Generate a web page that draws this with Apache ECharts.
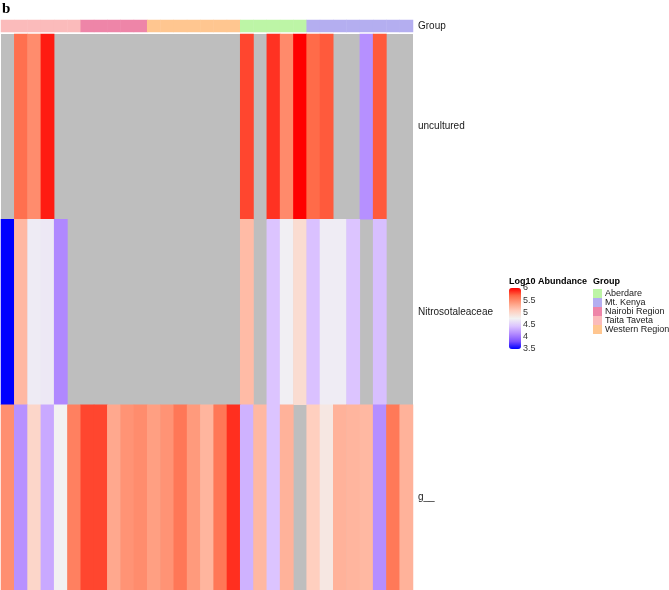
<!DOCTYPE html>
<html>
<head>
<meta charset="utf-8">
<script src="https://cdn.jsdelivr.net/npm/echarts@6/dist/echarts.min.js"></script>
<style>html,body{margin:0;padding:0;background:#fff}#c{width:669px;height:590px}</style>
</head>
<body>
<div id="c"></div>
<script>
// Samples (columns) and their group annotation
const samples = ['S1','S2','S3','S4','S5','S6','S7','S8','S9','S10','S11','S12','S13','S14','S15','S16',
  'S17','S18','S19','S20','S21','S22','S23','S24','S25','S26','S27','S28','S29','S30','S31'];
const sampleGroups = ['Taita Taveta','Taita Taveta','Taita Taveta','Taita Taveta','Taita Taveta','Taita Taveta',
  'Nairobi Region','Nairobi Region','Nairobi Region','Nairobi Region','Nairobi Region',
  'Western Region','Western Region','Western Region','Western Region','Western Region','Western Region','Western Region',
  'Aberdare','Aberdare','Aberdare','Aberdare','Aberdare',
  'Mt. Kenya','Mt. Kenya','Mt. Kenya','Mt. Kenya','Mt. Kenya','Mt. Kenya','Mt. Kenya','Mt. Kenya'];
const groupNames = ['Aberdare','Mt. Kenya','Nairobi Region','Taita Taveta','Western Region'];
const groupColors = ['#BDF5A6','#B4AEF0','#EE85A8','#FBBBBB','#FFC690'];

// Taxa (rows)
const taxa = ['uncultured','Nitrosotaleaceae','g__'];
// Log10 abundance per taxon (null = not detected)
const uncultured = [null,5.64,5.48,5.92,null,null,null,null,null,null,null,null,null,null,null,null,
  null,null,5.79,null,5.85,5.49,6.0,5.67,5.73,null,null,4.15,5.73,null,null];
const nitrosotaleaceae = [3.5,5.21,4.7,4.68,4.11,null,null,null,null,null,null,null,null,null,null,null,
  null,null,5.19,null,4.44,4.73,4.95,4.42,4.71,4.71,4.44,null,4.41,null,null];
const gUnderscore = [5.46,4.16,5.0,4.29,4.75,5.55,5.79,5.79,5.31,5.44,5.48,5.37,5.44,5.6,5.4,5.23,
  5.6,5.86,4.34,5.21,4.44,5.25,null,5.06,4.85,5.25,5.23,5.21,4.14,5.59,5.25];
const rows = [uncultured, nitrosotaleaceae, gUnderscore];

const colorTicks = [3.5, 4, 4.5, 5, 5.5, 6];

const heatData = [];
rows.forEach((r, ri) => r.forEach((v, ci) => { if (v !== null) heatData.push([ci, ri, v]); }));
const annData = sampleGroups.map((g, ci) => [ci, 0, groupNames.indexOf(g)]);

const FF = "'Liberation Sans', Arial, sans-serif";
const chart = echarts.init(document.getElementById('c'), null, { renderer: 'canvas' });
chart.setOption({
  animation: false,
  title: [
    { text: 'b', left: 2, top: 2, padding: 0, textStyle: { fontFamily: "'Liberation Serif', serif", fontWeight: 'bold', fontSize: 15, color: '#000' } },
    { text: 'Log10 Abundance', left: 509, top: 277, padding: 0, textStyle: { fontFamily: FF, fontWeight: 'bold', fontSize: 9, color: '#000' } },
    { text: 'Group', left: 593, top: 277, padding: 0, textStyle: { fontFamily: FF, fontWeight: 'bold', fontSize: 9, color: '#000' } }
  ],
  grid: [
    { left: 1, top: 34, width: 412, height: 556, show: true, backgroundColor: '#BEBEBE', borderWidth: 0 },
    { left: 1, top: 20, width: 412, height: 12, show: false },
    { left: 509, top: 288, width: 12, height: 61, show: false }
  ],
  xAxis: [
    { type: 'category', data: samples, gridIndex: 0, show: false },
    { type: 'category', data: samples, gridIndex: 1, show: false },
    { type: 'value', gridIndex: 2, show: false, min: 0, max: 1 }
  ],
  yAxis: [
    { type: 'category', data: taxa, gridIndex: 0, inverse: true, position: 'right',
      axisLine: { show: false }, axisTick: { show: false },
      axisLabel: { fontFamily: FF, fontSize: 10, color: '#1a1a1a', margin: 5 } },
    { type: 'category', data: ['Group'], gridIndex: 1, position: 'right',
      axisLine: { show: false }, axisTick: { show: false },
      axisLabel: { fontFamily: FF, fontSize: 10, color: '#1a1a1a', margin: 5 } },
    { type: 'value', gridIndex: 2, min: colorTicks[0], max: colorTicks[colorTicks.length - 1], interval: 0.5, position: 'right',
      axisLine: { show: false }, splitLine: { show: false },
      axisTick: { show: true, inside: true, length: 3, lineStyle: { color: '#fff', width: 1 } },
      axisLabel: { fontFamily: FF, fontSize: 9, color: '#333', margin: 2, showMaxLabel: true, showMinLabel: true, formatter: v => String(v) } },
    { type: 'value', gridIndex: 2, min: colorTicks[0], max: colorTicks[colorTicks.length - 1], interval: 0.5, position: 'left',
      axisLine: { show: false }, splitLine: { show: false },
      axisTick: { show: true, inside: true, length: 3, lineStyle: { color: '#fff', width: 1 } },
      axisLabel: { show: false } }
  ],
  visualMap: [
    {
      type: 'continuous', seriesIndex: 0, min: 3.5, max: 6, calculable: false, orient: 'vertical',
      left: 509, top: 288, itemWidth: 12, itemHeight: 61, padding: 0, text: null, hoverLink: false,
      textStyle: { fontSize: 0 },
      inRange: { color: ['#0000FF','#7E52FF','#B38BFF','#DCC4FF','#F2F2F2','#FFCFBF','#FF9E81','#FF6846','#FF0000'] }
    },
    {
      type: 'piecewise', seriesIndex: 1, orient: 'vertical', left: 593, top: 289, padding: 0,
      itemWidth: 9, itemHeight: 9, itemGap: 0, itemSymbol: 'rect', textGap: 3, align: 'left',
      inverse: true, hoverLink: false, selectedMode: false,
      textStyle: { fontFamily: FF, fontSize: 9, color: '#1a1a1a' },
      pieces: groupNames.map((g, i) => ({ value: i, label: g, color: groupColors[i] }))
    }
  ],
  series: [
    { type: 'heatmap', xAxisIndex: 0, yAxisIndex: 0, data: heatData, silent: true, itemStyle: { borderWidth: 0 } },
    { type: 'heatmap', xAxisIndex: 1, yAxisIndex: 1, data: annData, silent: true, itemStyle: { borderWidth: 0 } }
  ]
});
</script>
</body>
</html>
